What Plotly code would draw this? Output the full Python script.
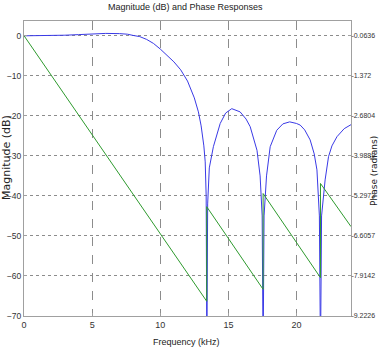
import plotly.graph_objects as go

# Magnitude response (dB)
freq_mag = [0, 2, 3, 4, 5, 6, 7, 7.6, 8.0, 8.5, 9.0, 9.5, 10.0, 10.5, 11.0, 11.5, 12.0,
            12.5, 12.8, 13.0, 13.2, 13.3, 13.37, 13.42,
            13.48, 13.6, 13.9, 14.4, 14.8, 15.25, 15.86, 16.3, 16.6, 17.1, 17.33, 17.48, 17.55,
            17.62, 17.8, 18.07, 18.55, 19.0, 19.5, 20.0, 20.27, 20.6, 21.0, 21.3, 21.5, 21.68, 21.76,
            21.84, 22.1, 22.35, 22.6, 22.97, 23.5, 24.0]
mag_db = [0, 0.05, 0.15, 0.3, 0.5, 0.6, 0.55, 0.4, 0.1, -0.2, -0.9, -1.9, -3.3, -4.8, -6.5, -8.5, -11.3,
          -15.5, -19.0, -22.5, -27.5, -31.5, -40, -80,
          -42, -33, -27.7, -21.9, -19.3, -18.2, -19.0, -20.8, -22.7, -28.6, -35, -45, -80,
          -45, -35, -27.7, -23.6, -22.0, -21.5, -21.9, -22.3, -23.5, -26.0, -29.5, -33.5, -45, -80,
          -45, -36, -30.2, -27.5, -25.2, -23.2, -22.2]

# Phase response (radians): straight segments with jumps at the zeros
freq_phase = [0, 13.41, 13.41, 17.55, 17.55, 21.76, 21.76, 24.0]
phase_rad = [-0.06, -8.74, -5.65, -8.35, -5.22, -7.97, -4.89, -6.30]

mag_ticks = [-70, -60, -50, -40, -30, -20, -10, 0]
phase_ticks = [-9.2226, -7.9142, -6.6057, -5.2973, -3.9889, -2.6804, -1.372, -0.0636]
phase_labels = ["-9.2226", "-7.9142", "-6.6057", "-5.2973", "-3.9889", "-2.6804", "-1.372", "-0.0636"]
freq_ticks = [0, 5, 10, 15, 20]

sans = "Liberation Sans, Arial, sans-serif"
grid_col = "#8c8c8c"
frame_col = "#a0a0a0"
txt_col = "#333333"

fig = go.Figure()
fig.add_trace(go.Scatter(x=freq_mag, y=mag_db, mode="lines",
                         line=dict(color="#3a3ae6", width=1), yaxis="y", showlegend=False))
fig.add_trace(go.Scatter(x=freq_phase, y=phase_rad, mode="lines",
                         line=dict(color="#2e9a2e", width=1), yaxis="y2", showlegend=False))

top_db = 3.7
scale = (phase_ticks[-1] - phase_ticks[0]) / 70.0
fig.update_layout(
    width=380, height=348,
    margin=dict(l=24, r=29, t=21, b=32),
    paper_bgcolor="white", plot_bgcolor="white",
    font=dict(family=sans, size=9, color=txt_col),
    xaxis=dict(range=[0, 24], tickvals=freq_ticks, showgrid=True, gridcolor=grid_col,
               griddash="dash", gridwidth=1, zeroline=False, showline=True, linecolor=frame_col,
               mirror=True, ticks="inside", ticklen=3, tickcolor=frame_col, automargin=False,
               tickfont=dict(family=sans, size=9, color=txt_col)),
    yaxis=dict(range=[-70, top_db], tickvals=mag_ticks, showgrid=True, gridcolor=grid_col,
               griddash="dot", gridwidth=1, zeroline=False, showline=True, linecolor=frame_col,
               ticks="inside", ticklen=3, tickcolor=frame_col, automargin=False,
               tickfont=dict(family=sans, size=8.5, color=txt_col)),
    yaxis2=dict(overlaying="y", side="right",
                range=[phase_ticks[0], phase_ticks[-1] + top_db * scale],
                tickvals=phase_ticks, ticktext=phase_labels, showgrid=False, zeroline=False,
                showline=True, linecolor=frame_col, ticks="inside", ticklen=3, tickcolor=frame_col,
                automargin=False, ticklabelstandoff=-2,
                tickfont=dict(family=sans, size=7, color=txt_col)),
    annotations=[
        dict(text="Magnitude (dB) and Phase Responses", x=0.495, y=1.047, xref="paper", yref="paper",
             showarrow=False, xanchor="center", yanchor="middle",
             font=dict(family=sans, size=9, color="#222")),
        dict(text="Magnitude (dB)", x=-0.052, y=0.539, xref="paper", yref="paper", textangle=-90,
             showarrow=False, xanchor="center", yanchor="middle",
             font=dict(family="DejaVu Sans", size=11, color="#222")),
        dict(text="Phase (radians)", x=1.0704, y=0.492, xref="paper", yref="paper", textangle=-90,
             showarrow=False, xanchor="center", yanchor="middle",
             font=dict(family="DejaVu Sans", size=9, color="#222")),
        dict(text="Frequency (kHz)", x=0.498, y=-0.088, xref="paper", yref="paper",
             showarrow=False, xanchor="center", yanchor="middle",
             font=dict(family=sans, size=9, color="#222")),
    ],
)

fig.write_html("out.html")
